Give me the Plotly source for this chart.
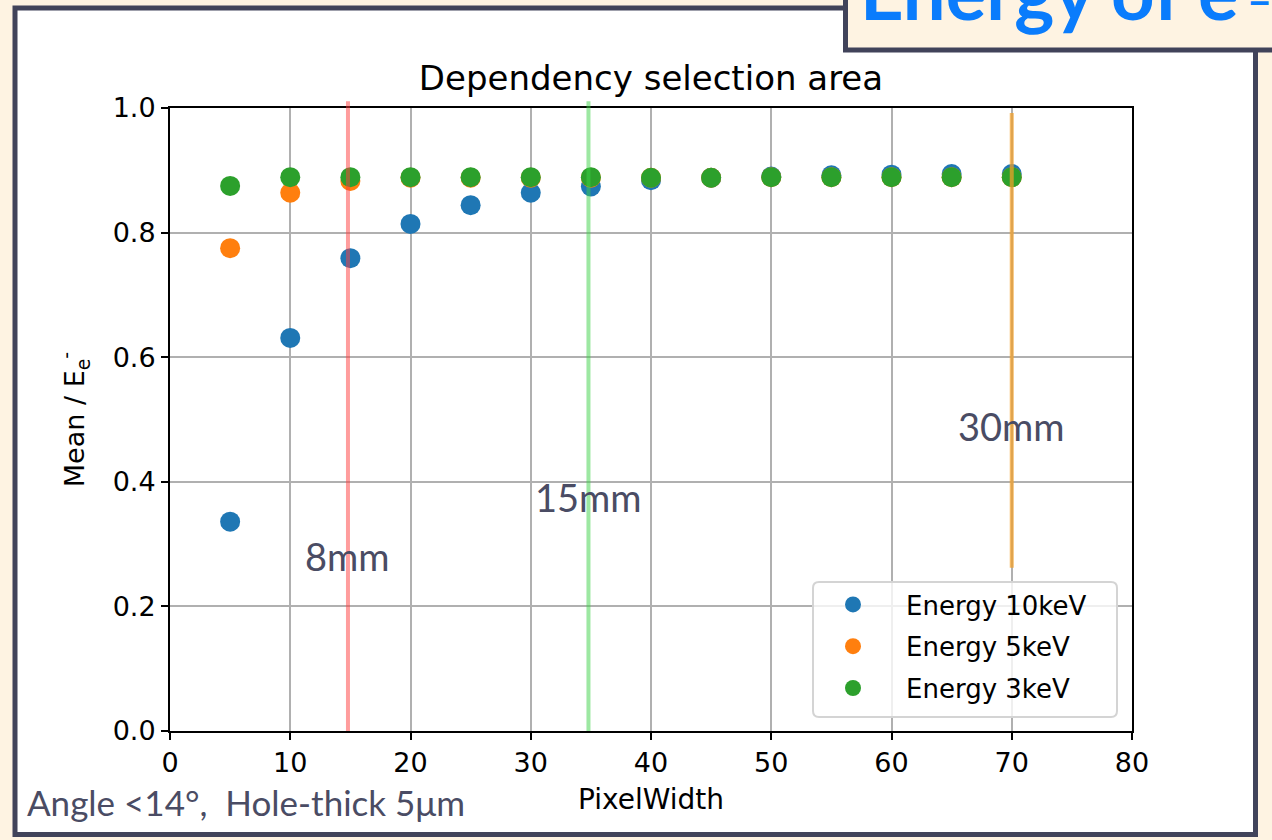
import plotly.graph_objects as go

# Mean response vs pixel width for three electron energies
pixel_width = [5, 10, 15, 20, 25, 30, 35, 40, 45, 50, 55, 60, 65, 70]
mean_10kev = [0.336, 0.631, 0.759, 0.814, 0.844, 0.864, 0.874, 0.884, 0.888, 0.890, 0.892, 0.893, 0.894, 0.894]
mean_5kev = [0.775, 0.864, 0.883, 0.888, 0.888, 0.888, 0.888, 0.888, 0.888, 0.889, 0.889, 0.889, 0.889, 0.889]
mean_3kev = [0.875, 0.889, 0.889, 0.889, 0.889, 0.889, 0.889, 0.888, 0.888, 0.889, 0.889, 0.889, 0.889, 0.889]

series_names = ["Energy 10keV", "Energy 5keV", "Energy 3keV"]
series_colors = ["#1f77b4", "#ff7f0e", "#2ca02c"]

# selection-area markers: pixel width, vertical extent, label, label height
area_labels = ["8mm", "15mm", "30mm"]
area_x = [14.8, 34.8, 70.0]
area_y_low = [0.0, 0.0, 0.262]
area_y_high = [1.011, 1.011, 0.992]
area_label_y = [0.281, 0.376, 0.490]
area_colors = ["rgba(255,60,60,0.5)", "rgba(60,210,70,0.5)", "rgba(243,160,40,0.72)"]

x_ticks = [0, 10, 20, 30, 40, 50, 60, 70, 80]
y_ticks = [0.0, 0.2, 0.4, 0.6, 0.8, 1.0]

W, H = 1272, 840


def px(v):
    return v / W


def py(v):
    return 1 - v / H


def rounded_rect(x0, y0, x1, y1, r):
    # rounded rectangle path in paper coordinates, from page pixels
    pts = [
        f"M {px(x0 + r)},{py(y0)}",
        f"L {px(x1 - r)},{py(y0)}",
        f"Q {px(x1)},{py(y0)} {px(x1)},{py(y0 + r)}",
        f"L {px(x1)},{py(y1 - r)}",
        f"Q {px(x1)},{py(y1)} {px(x1 - r)},{py(y1)}",
        f"L {px(x0 + r)},{py(y1)}",
        f"Q {px(x0)},{py(y1)} {px(x0)},{py(y1 - r)}",
        f"L {px(x0)},{py(y0 + r)}",
        f"Q {px(x0)},{py(y0)} {px(x0 + r)},{py(y0)}",
        "Z",
    ]
    return " ".join(pts)


CREAM = "#fef3e2"
FRAME = "#41435a"
NOTE = "#4a4c64"
BLUE = "#0a7cfc"
TICK_FONT = dict(family="DejaVu Sans", size=27, color="black")

fig = go.Figure()
for name, color, ys in zip(series_names, series_colors, [mean_10kev, mean_5kev, mean_3kev]):
    fig.add_trace(go.Scatter(
        x=pixel_width, y=ys, mode="markers", name=name, legendgroup=name,
        marker=dict(color=color, size=20, line=dict(width=0)),
        cliponaxis=False,
    ))

shapes = [
    # slide panel
    dict(type="rect", xref="paper", yref="paper", layer="below",
         x0=px(15), x1=px(1255.5), y0=py(834.5), y1=py(8),
         fillcolor="white", line=dict(color=FRAME, width=5)),
    # heading box
    dict(type="rect", xref="paper", yref="paper", layer="above",
         x0=px(845.5), x1=px(1300), y0=py(50), y1=py(-30),
         fillcolor=CREAM, line=dict(color=FRAME, width=5)),
    # legend frame
    dict(type="path", xref="paper", yref="paper", layer="above",
         path=rounded_rect(813, 582, 1117, 717, 6),
         fillcolor="rgba(255,255,255,0.8)", line=dict(color="#d4d4d4", width=2)),
]
for i in range(len(area_x)):
    yref = "y domain" if area_y_high[i] > 1 else "y"
    shapes.append(dict(type="line", xref="x", yref=yref, layer="above",
                       x0=area_x[i], x1=area_x[i], y0=area_y_low[i], y1=area_y_high[i],
                       line=dict(color=area_colors[i], width=4)))

annotations = [
    dict(text="Energy of e", xref="paper", yref="paper",
         x=px(858), y=py(38), xanchor="left", yanchor="bottom", showarrow=False,
         font=dict(family="Lato", size=76, color=BLUE, weight="bold")),
    dict(text="−", xref="paper", yref="paper",
         x=px(1259), y=py(2), xanchor="center", yanchor="middle", showarrow=False,
         font=dict(family="Lato", size=40, color=BLUE, weight="bold")),
    dict(text="Angle <14°,  Hole-thick 5μm", xref="paper", yref="paper",
         x=px(25), y=py(802), xanchor="left", yanchor="middle", showarrow=False,
         font=dict(family="Lato", size=35, color=NOTE)),
]
for i, lab in enumerate(area_labels):
    annotations.append(dict(text=lab, xref="x", yref="y", x=area_x[i], y=area_label_y[i],
                            xanchor="center", yanchor="middle", showarrow=False,
                            font=dict(family="Lato", size=38, color=NOTE)))

fig.update_layout(
    width=W, height=H,
    margin=dict(l=0, r=0, t=0, b=0),
    paper_bgcolor=CREAM,
    plot_bgcolor="white",
    showlegend=True,
    title=dict(text="Dependency selection area", x=px(651), xanchor="center",
               y=py(78), yanchor="middle", font=dict(family="DejaVu Sans", size=34, color="black")),
    xaxis=dict(domain=[px(170), px(1132)], range=[0, 80], tickvals=x_ticks,
               ticks="outside", ticklen=7, tickwidth=2, tickcolor="black",
               showline=True, linecolor="black", linewidth=2, mirror=True,
               showgrid=True, gridcolor="#b0b0b0", gridwidth=2, zeroline=False,
               tickfont=TICK_FONT, automargin=False,
               title=dict(text="PixelWidth", font=dict(family="DejaVu Sans", size=28, color="black"), standoff=12)),
    yaxis=dict(domain=[py(731), py(108)], range=[0, 1], tickvals=y_ticks, tickformat=".1f",
               ticks="outside", ticklen=7, tickwidth=2, tickcolor="black",
               showline=True, linecolor="black", linewidth=2, mirror=True,
               showgrid=True, gridcolor="#b0b0b0", gridwidth=2, zeroline=False,
               tickfont=TICK_FONT, automargin=False,
               title=dict(text="Mean / E<sub>e</sub><sup>-</sup>", font=dict(family="DejaVu Sans", size=27, color="black"), standoff=20)),
    legend=dict(x=px(800), xanchor="left", y=py(581), yanchor="top",
                bgcolor="rgba(0,0,0,0)", borderwidth=0,
                font=dict(family="DejaVu Sans", size=26, color="black"),
                itemwidth=96, tracegroupgap=5),
    shapes=shapes,
    annotations=annotations,
)

fig.write_html("out.html")
